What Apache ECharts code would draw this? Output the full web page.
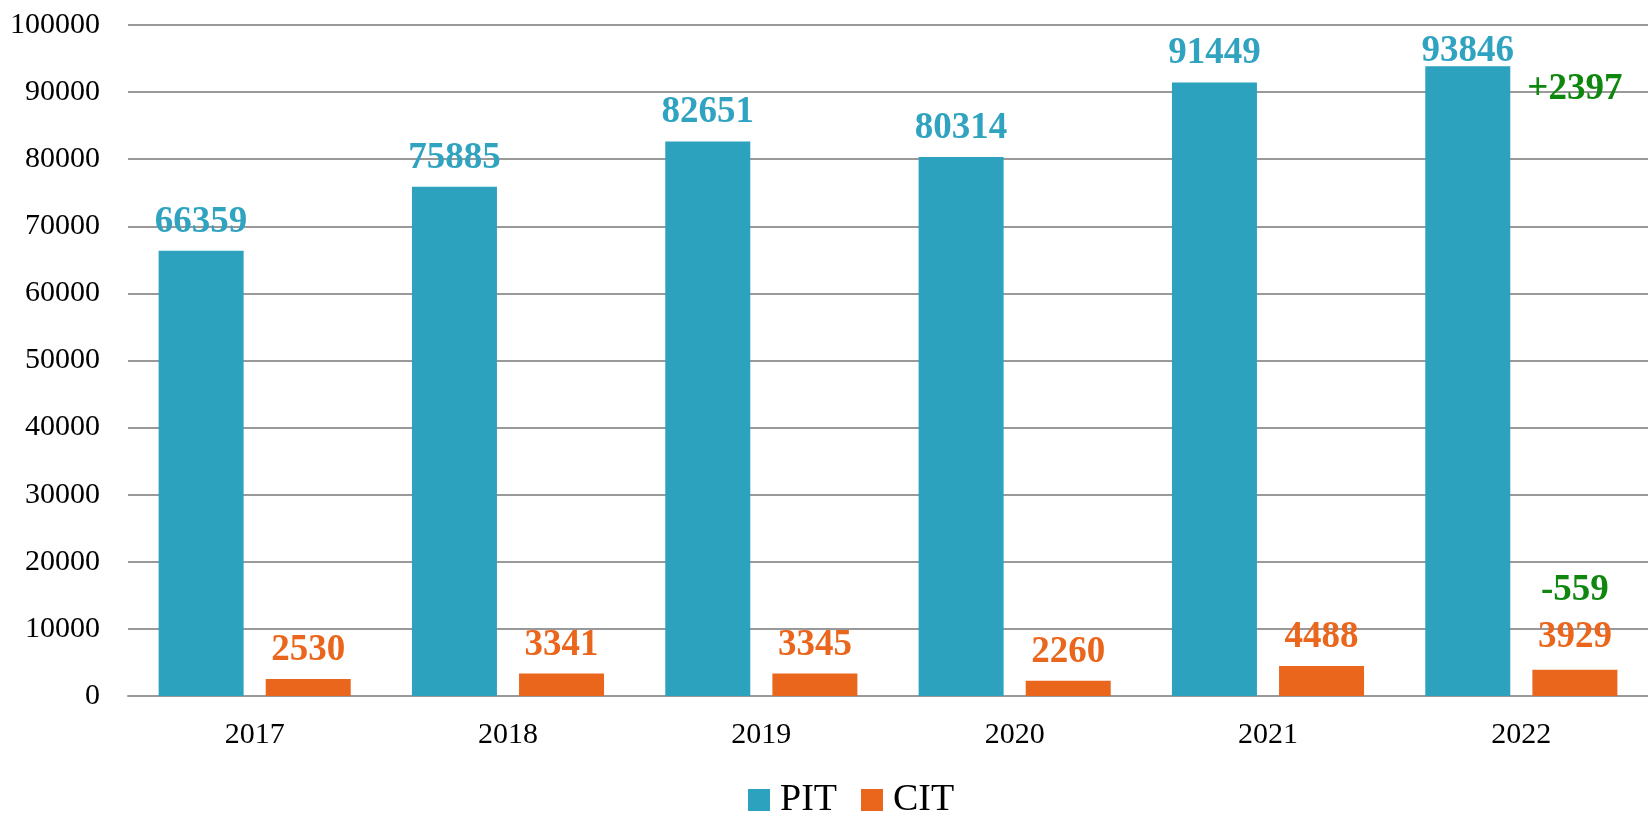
<!DOCTYPE html>
<html>
<head>
<meta charset="utf-8">
<script src="https://cdn.jsdelivr.net/npm/echarts@6/dist/echarts.min.js"></script>
<style>
html,body{margin:0;padding:0;background:#fff;}
#chart{width:1648px;height:813px;}
</style>
</head>
<body>
<div id="chart"></div>
<script>
const categories = ['2017', '2018', '2019', '2020', '2021', '2022'];
const pitValues = [66359, 75885, 82651, 80314, 91449, 93846];
const citValues = [2530, 3341, 3345, 2260, 4488, 3929];
const pitChange = '+2397';
const citChange = '-559';
const yTicks = [0, 10000, 20000, 30000, 40000, 50000, 60000, 70000, 80000, 90000, 100000];

const FONT = '"Liberation Serif", "Times New Roman", serif';
const PIT_COLOR = '#2ca2bf';
const CIT_COLOR = '#ea661d';
const GREEN = '#0f870f';

const chart = echarts.init(document.getElementById('chart'));
const last = categories.length - 1;

chart.setOption({
  animation: false,
  textStyle: { fontFamily: FONT },
  grid: { left: 128, right: 0, top: 25, bottom: 117, containLabel: false },
  legend: {
    data: ['PIT', 'CIT'],
    bottom: -11,
    left: 743,
    icon: 'rect',
    itemWidth: 22,
    itemHeight: 22,
    itemGap: 24,
    textStyle: { fontFamily: FONT, fontSize: 38, color: '#000', padding: [0, 0, 0, 5] }
  },
  xAxis: {
    type: 'category',
    data: categories,
    axisTick: { show: false },
    axisLine: { show: true, lineStyle: { color: '#999', width: 2 } },
    axisLabel: { fontFamily: FONT, fontSize: 30, color: '#000', margin: 24 }
  },
  yAxis: {
    type: 'value',
    min: yTicks[0],
    max: yTicks[yTicks.length - 1],
    interval: yTicks[1] - yTicks[0],
    axisLine: { show: false },
    axisTick: { show: false },
    splitLine: { lineStyle: { color: '#999', width: 2 } },
    axisLabel: { fontFamily: FONT, fontSize: 30, color: '#000', margin: 28, formatter: v => String(v) }
  },
  series: [
    {
      name: 'PIT',
      type: 'bar',
      data: pitValues.map((v, i) => i === last ? { value: v, label: { offset: [0, 14] } } : v),
      barWidth: 85,
      barGap: '26%',
      itemStyle: { color: PIT_COLOR },
      label: {
        show: true,
        position: 'top',
        distance: 10,
        fontFamily: FONT,
        fontSize: 37,
        fontWeight: 'bold',
        color: '#2fa3c0'
      }
    },
    {
      name: 'CIT',
      type: 'bar',
      data: citValues.map((v, i) => i === last ? {
        value: v,
        label: {
          formatter: '{d|' + citChange + '}\n{v|{c}}',
          rich: {
            d: { fontFamily: FONT, fontSize: 37, fontWeight: 'bold', color: GREEN, lineHeight: 51 },
            v: { fontFamily: FONT, fontSize: 37, fontWeight: 'bold', color: CIT_COLOR, lineHeight: 44 }
          }
        }
      } : v),
      barWidth: 85,
      itemStyle: { color: CIT_COLOR },
      label: {
        show: true,
        position: 'top',
        distance: 10,
        fontFamily: FONT,
        fontSize: 37,
        fontWeight: 'bold',
        color: CIT_COLOR
      },
      markPoint: {
        symbol: 'rect',
        symbolSize: 1,
        itemStyle: { color: 'rgba(0,0,0,0)' },
        data: [{
          coord: [categories[last], pitValues[last]],
          label: {
            show: true,
            position: 'inside',
            offset: [0, 23],
            formatter: pitChange,
            fontFamily: FONT,
            fontSize: 37,
            fontWeight: 'bold',
            color: GREEN
          }
        }]
      }
    }
  ]
});
</script>
</body>
</html>
